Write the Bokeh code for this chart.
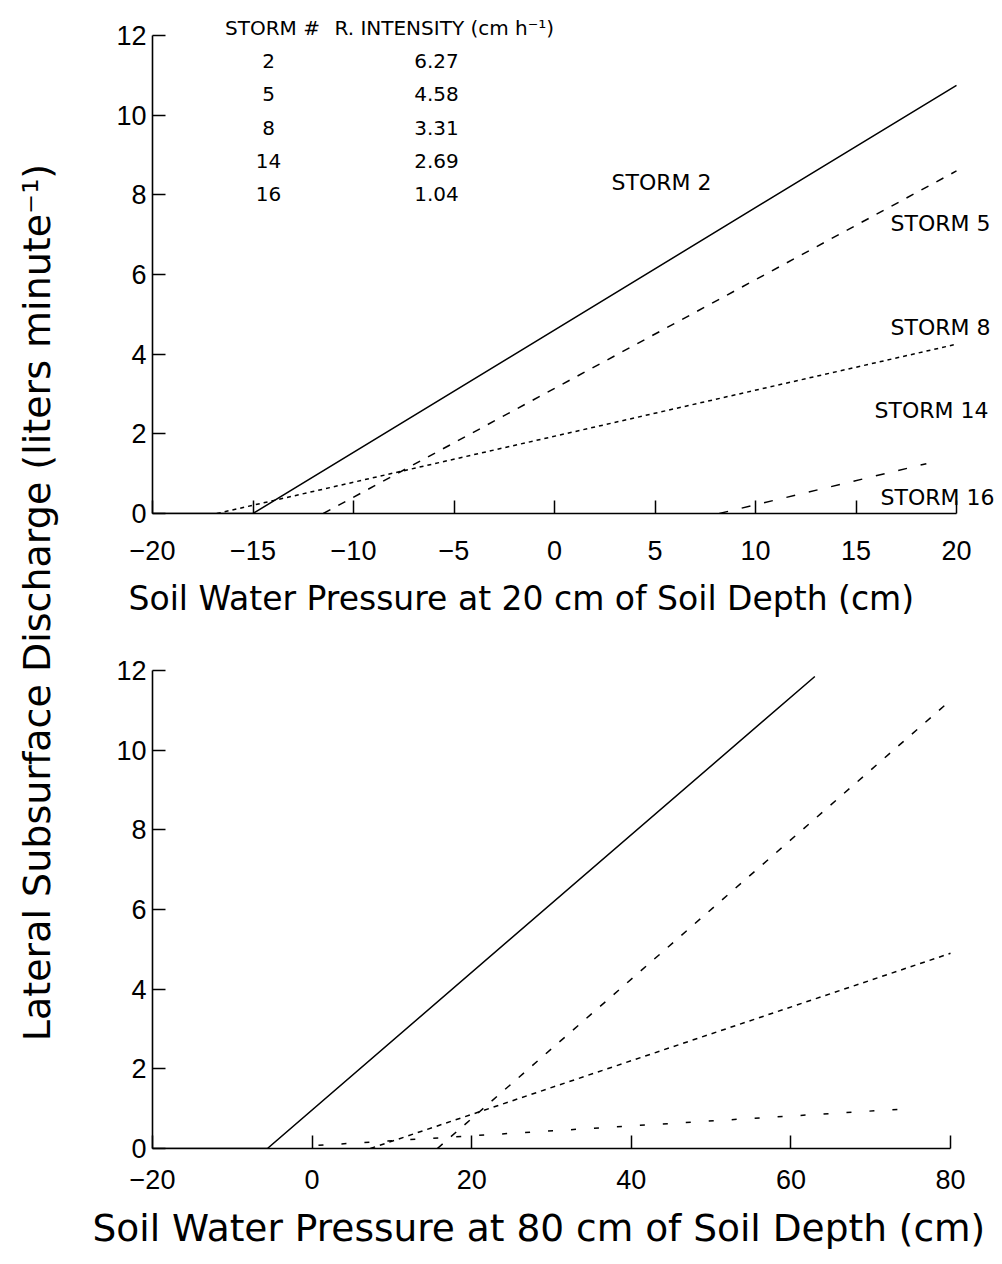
import math
from bokeh.plotting import figure
from bokeh.models import Range1d, FixedTicker, Label, Title
from bokeh.layouts import row, column
from bokeh.embed import file_html
from bokeh.resources import INLINE

# ---------------- data ----------------
# Top panel: soil water pressure at 20 cm (cm) vs discharge (L/min)
top_s2_x = [-20, -15, 20]
top_s2_y = [0, 0, 10.75]
top_s5_x = [-11.5, 20]
top_s5_y = [0, 8.6]
top_s8_x = [-16.8, 20]
top_s8_y = [0, 4.25]
top_s16_x = [8.2, 18.5]
top_s16_y = [0, 1.25]

# Bottom panel: soil water pressure at 80 cm (cm) vs discharge (L/min)
bot_s2_x = [-20, -5.6, 63]
bot_s2_y = [0, 0, 11.85]
bot_s5_x = [15.7, 80]
bot_s5_y = [0, 11.25]
bot_s8_x = [7.3, 80]
bot_s8_y = [0, 4.9]
bot_s16_x = [0.8, 74]
bot_s16_y = [0.08, 0.99]

storm_ids = ["2", "5", "8", "14", "16"]
intensities = ["6.27", "4.58", "3.31", "2.69", "1.04"]
storm_names = ["STORM 2", "STORM 5", "STORM 8", "STORM 14", "STORM 16"]

top_xticks = [-20, -15, -10, -5, 0, 5, 10, 15, 20]
bot_xticks = [-20, 0, 20, 40, 60, 80]
yticks = [0, 2, 4, 6, 8, 10, 12]

TICK_FONT = "Liberation Sans"
TEXT_FONT = "DejaVu Sans"
LEFT = 70          # width of the shared y-title strip
FRAME_L = 152      # page x of both frames' left edge
FRAME_R = 1002     # frames run to the page's right edge (axes bounded)


def minus(v):
    return str(v).replace("-", "\u2212")


def style(p, xticks, xb, yb, standoff):
    p.grid.visible = False
    p.outline_line_color = None
    p.xaxis.ticker = FixedTicker(ticks=xticks)
    p.yaxis.ticker = FixedTicker(ticks=yticks)
    p.xaxis.major_label_overrides = {t: minus(t) for t in xticks}
    p.xaxis.bounds = xb
    p.yaxis.bounds = yb
    for ax in (p.xaxis[0], p.yaxis[0]):
        ax.axis_line_width = 1.6
        ax.axis_line_color = "black"
        ax.major_tick_in = 13
        ax.major_tick_out = 0
        ax.major_tick_line_width = 1.5
        ax.major_tick_line_color = "black"
        ax.minor_tick_line_color = None
        ax.major_label_text_font = TICK_FONT
        ax.major_label_text_font_size = "27px"
        ax.major_label_text_color = "black"
    p.xaxis.major_label_standoff = standoff
    p.yaxis.major_label_standoff = 6


# ---------------- top panel (page: frame x 152..1002, y 15..513) ----------------
TOP_H = 640
top_ppu_x = 20.1
top_ppu_y = 39.833
top = figure(width=1002 - LEFT, height=TOP_H,
             x_range=Range1d(-20, -20 + (FRAME_R - FRAME_L) / top_ppu_x),
             y_range=Range1d(0, (513 - 15) / top_ppu_y),
             toolbar_location=None, output_backend="svg",
             min_border_left=FRAME_L - LEFT, min_border_right=0, min_border_top=15,
             min_border_bottom=TOP_H - 513)
style(top, top_xticks, (-20, 20), (0, 12), 27)
top.add_layout(Title(text="Soil Water Pressure at 20 cm of Soil Depth (cm)", align="left",
                     offset=128 - FRAME_L, text_font=TEXT_FONT,
                     text_font_size="33px", text_font_style="normal", text_color="black",
                     standoff=28), "below")

top.line(top_s2_x, top_s2_y, line_color="black", line_width=1.5)
top.line(top_s5_x, top_s5_y, line_color="black", line_width=1.5, line_dash="8 9")
top.line(top_s8_x, top_s8_y, line_color="black", line_width=1.5, line_dash="4 4")
top.line(top_s16_x, top_s16_y, line_color="black", line_width=1.5, line_dash="9 14")


def tx(px):
    return -20 + (px - FRAME_L) / top_ppu_x


def ty(py):
    return (513 - py) / top_ppu_y


lab_kw = dict(text_font=TEXT_FONT, text_font_size="20px", text_color="black",
              text_baseline="middle")
top.add_layout(Label(x=tx(272), y=ty(27), text="STORM #", text_align="center", **lab_kw))
top.add_layout(Label(x=tx(334), y=ty(27), text="R. INTENSITY (cm h\u207b\u00b9)",
                     text_align="left", **lab_kw))
row_py = [60, 93, 127, 160, 193]
for sid, inten, py in zip(storm_ids, intensities, row_py):
    top.add_layout(Label(x=tx(268), y=ty(py), text=sid, text_align="center", **lab_kw))
    top.add_layout(Label(x=tx(436), y=ty(py), text=inten, text_align="center", **lab_kw))

storm_pos = [(661, 182), (940, 223), (940, 327), (931, 410), (937, 497)]
for txt, (px, py) in zip(storm_names, storm_pos):
    top.add_layout(Label(x=tx(px), y=ty(py), text=txt, text_align="center",
                         text_font=TEXT_FONT, text_font_size="22px", text_color="black",
                         text_baseline="middle"))

# ---------------- bottom panel (page: frame x 152..1002, y 670..1148) ----------------
BOT_H = 1264 - TOP_H
bot_ppu_x = (950 - FRAME_L) / 100.0
bot = figure(width=1002 - LEFT, height=BOT_H,
             x_range=Range1d(-20, 80 + (FRAME_R - 950) / bot_ppu_x),
             y_range=Range1d(0, 12),
             toolbar_location=None, output_backend="svg",
             min_border_left=FRAME_L - LEFT, min_border_right=0, min_border_top=670 - TOP_H,
             min_border_bottom=1264 - 1148)
style(bot, bot_xticks, (-20, 80), (0, 12), 21)
bot.add_layout(Title(text="Soil Water Pressure at 80 cm of Soil Depth (cm)", align="left",
                     offset=92 - FRAME_L, text_font=TEXT_FONT,
                     text_font_size="37.5px", text_font_style="normal", text_color="black",
                     standoff=24), "below")

bot.line(bot_s2_x, bot_s2_y, line_color="black", line_width=1.5)
bot.line(bot_s5_x, bot_s5_y, line_color="black", line_width=1.5, line_dash="7 11")
bot.line(bot_s8_x, bot_s8_y, line_color="black", line_width=1.5, line_dash="5 5")
bot.line(bot_s16_x, bot_s16_y, line_color="black", line_width=1.5, line_dash="5 18")

# ---------------- shared y title ----------------
ylab = figure(width=LEFT, height=1264, x_range=Range1d(0, LEFT), y_range=Range1d(0, 1264),
              toolbar_location=None, output_backend="svg",
              x_axis_location=None, y_axis_location=None, min_border=0)
ylab.grid.visible = False
ylab.outline_line_color = None
ylab.add_layout(Label(x=36, y=1264 - 602, angle=math.pi / 2,
                      text="Lateral Subsurface Discharge (liters minute\u207b\u00b9)",
                      text_align="center", text_baseline="middle",
                      text_font=TEXT_FONT, text_font_size="38px", text_color="black"))

layout = row(ylab, column(top, bot, spacing=0), spacing=0)

with open("out.html", "w") as f:
    f.write(file_html(layout, INLINE))
